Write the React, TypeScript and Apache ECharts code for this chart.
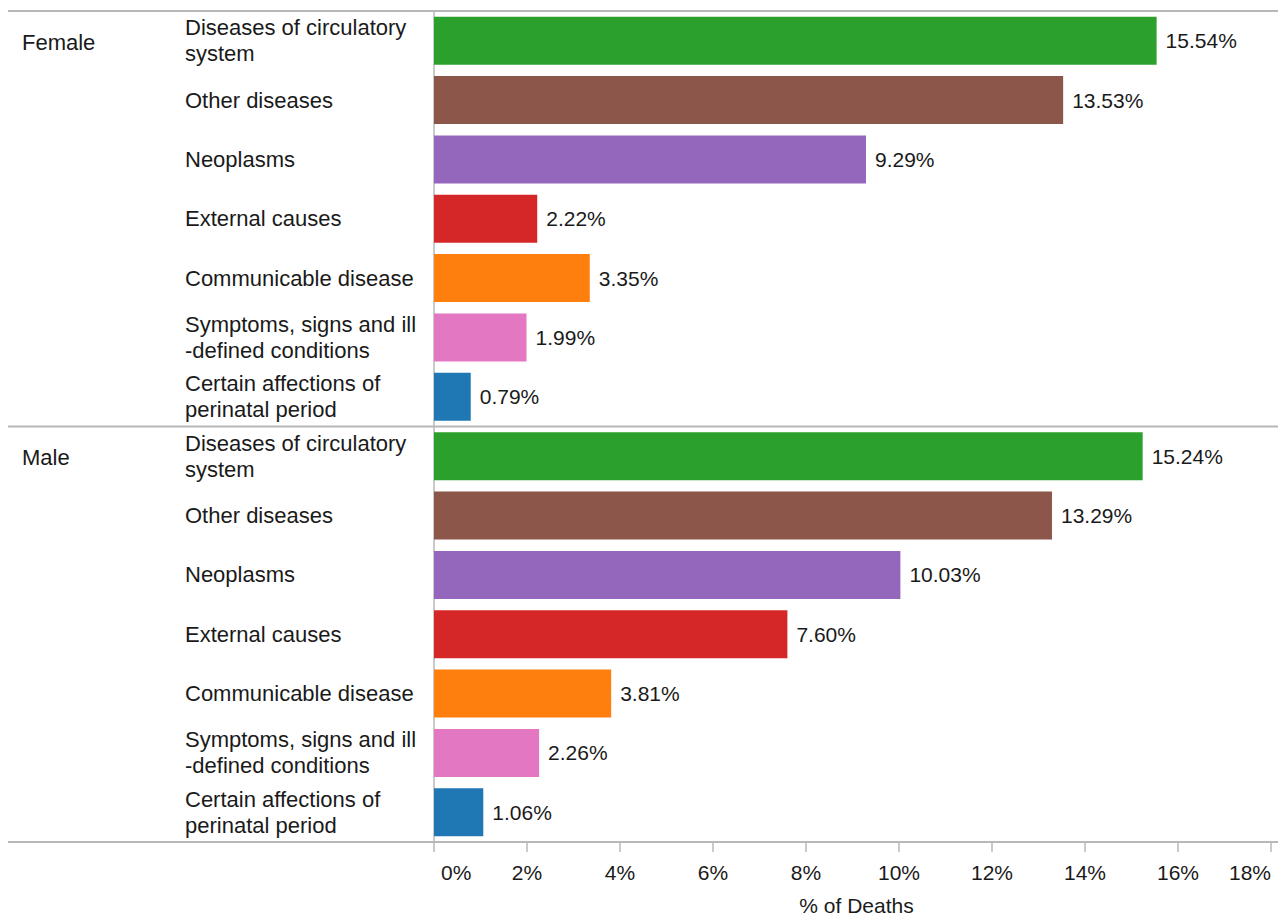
import React, { useEffect, useRef } from "react";
import * as echarts from "echarts";

const causes = [
  "Diseases of circulatory\nsystem",
  "Other diseases",
  "Neoplasms",
  "External causes",
  "Communicable disease",
  "Symptoms, signs and ill\n-defined conditions",
  "Certain affections of\nperinatal period",
];
const causeColors = ["#2ca02c", "#8c564b", "#9467bd", "#d62728", "#ff7f0e", "#e377c2", "#1f77b4"];
const femaleValues = [15.54, 13.53, 9.29, 2.22, 3.35, 1.99, 0.79];
const maleValues = [15.24, 13.29, 10.03, 7.6, 3.81, 2.26, 1.06];
const groups = ["Female", "Male"];
const xTicks = [0, 2, 4, 6, 8, 10, 12, 14, 16, 18];

const FONT = "'Liberation Sans', Arial, sans-serif";
const TEXT = "#1a1a1a";
const LINE = "#b8b8b8";

export default function App() {
  const ref = useRef<HTMLDivElement>(null);
  useEffect(() => {
    if (!ref.current) return;
    const chart = echarts.init(ref.current, null, { renderer: "svg" });
    const cats = [...causes, ...causes];
    const values = [...femaleValues, ...maleValues];
    const data = values.map((v, i) => ({
      value: v,
      itemStyle: { color: causeColors[i % causes.length] },
    }));
    const gridTop = 11;
    const gridBottomY = 842;
    const half = (gridBottomY - gridTop) / 2;
    chart.setOption({
      animation: false,
      textStyle: { fontFamily: FONT },
      grid: {
        left: 434,
        right: 7,
        top: gridTop,
        height: gridBottomY - gridTop,
        containLabel: false,
        outerBoundsMode: "none",
      },
      xAxis: {
        type: "value",
        min: xTicks[0],
        max: xTicks[xTicks.length - 1],
        interval: 2,
        axisLine: { show: false },
        axisTick: { show: true, length: 10, lineStyle: { color: LINE, width: 1.5 } },
        splitLine: { show: false },
        axisLabel: {
          color: TEXT,
          fontSize: 21,
          fontFamily: FONT,
          margin: 20,
          alignMinLabel: "left",
          alignMaxLabel: "right",
          formatter: (v: number) => (v === 0 ? "{z|0%}" : v + "%"),
          rich: { z: { padding: [0, 0, 0, 7], fontSize: 21, color: TEXT, fontFamily: FONT } },
        },
        name: "% of Deaths",
        nameLocation: "middle",
        nameGap: 53,
        nameTextStyle: { color: TEXT, fontSize: 21, fontFamily: FONT, padding: [0, 0, 0, 8] },
      },
      yAxis: {
        type: "category",
        data: cats,
        inverse: true,
        axisLine: { show: true, lineStyle: { color: LINE, width: 1.5 } },
        axisTick: { show: false },
        axisLabel: {
          color: TEXT,
          fontSize: 22,
          fontFamily: FONT,
          align: "left",
          margin: 249,
          lineHeight: 26,
          interval: 0,
        },
      },
      series: [
        {
          type: "bar",
          data,
          barWidth: 48,
          label: {
            show: true,
            position: "right",
            distance: 9,
            color: TEXT,
            fontSize: 21,
            fontFamily: FONT,
            formatter: (p: any) => p.value.toFixed(2) + "%",
          },
        },
      ],
      graphic: [
        ...[gridTop, gridTop + half, gridBottomY].map((y) => ({
          type: "line",
          shape: { x1: 8, y1: y, x2: 1278, y2: y },
          style: { stroke: LINE, lineWidth: 2 },
          z: 10,
        })),
        ...groups.map((g, i) => ({
          type: "text",
          x: 22,
          y: gridTop + i * half + 31,
          style: { text: g, fill: TEXT, fontSize: 22, fontFamily: FONT, verticalAlign: "middle" },
        })),
      ],
    });
    return () => chart.dispose();
  }, []);
  return <div ref={ref} style={{ width: 1278, height: 917, position: "absolute", left: 0, top: 0 }} />;
}
